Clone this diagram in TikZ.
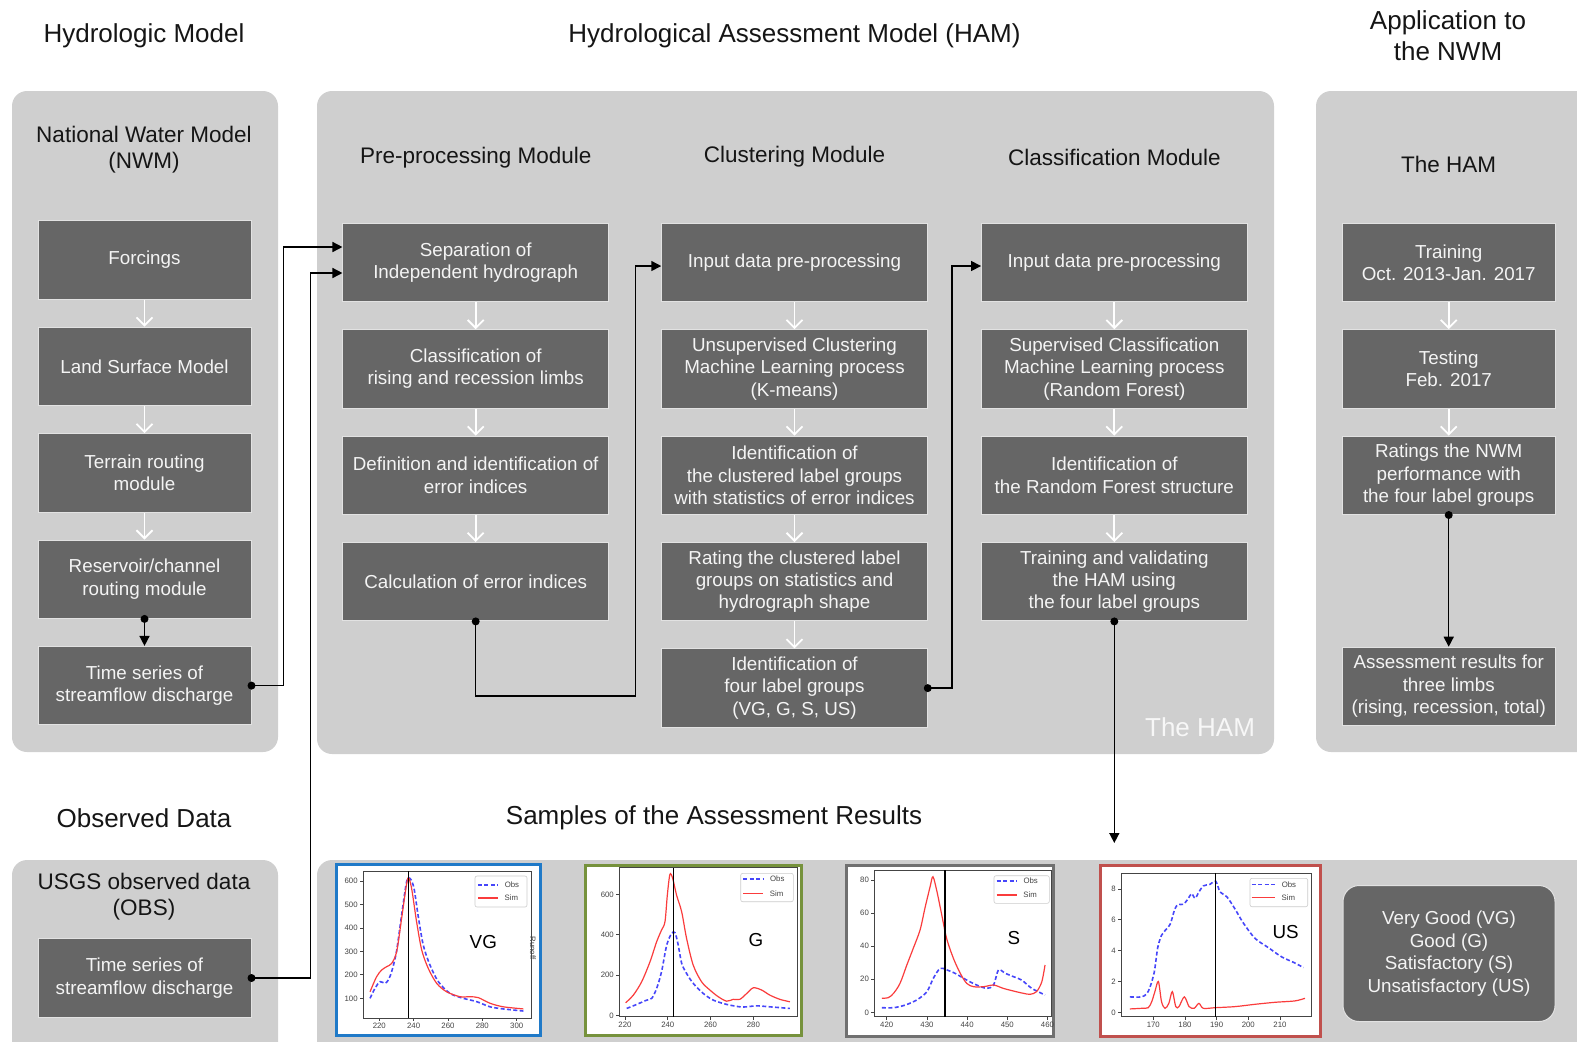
\documentclass[tikz,border=0pt]{standalone}
\usepackage{fontspec}
\setmainfont{Liberation Sans}
\usetikzlibrary{positioning,arrows.meta,calc}
\definecolor{panelgray}{HTML}{CFCFCF}
\definecolor{boxgray}{HTML}{666666}
\definecolor{boxedge}{HTML}{E2E2E2}
\definecolor{boxtext}{HTML}{F4F4F4}
\definecolor{titletext}{HTML}{151515}
\definecolor{axgray}{HTML}{444444}
\definecolor{vgblue}{RGB}{32,122,200}
\definecolor{ggreen}{RGB}{118,146,60}
\definecolor{sgray}{RGB}{112,112,112}
\definecolor{usred}{RGB}{192,80,77}
\definecolor{obsblue}{RGB}{70,70,250}
\definecolor{simred}{RGB}{250,60,60}
\newcommand{\boxfont}{\fontsize{9.4}{11.2}\selectfont}
\newcommand{\ttlfont}{\fontsize{13}{15.5}\selectfont}
\newcommand{\modfont}{\fontsize{11.25}{13}\selectfont}
\newcommand{\tickfont}{\fontsize{3.9}{4.5}\selectfont}
\begin{document}
\begin{tikzpicture}[x=0.5pt, y=-0.5pt,
	panel/.style={fill=panelgray, rounded corners=7.5pt},
	blk/.style={fill=boxgray, draw=boxedge, line width=0.5pt, text=boxtext, align=center, font=\boxfont, minimum height=39.2pt, inner sep=0pt},
	lbox/.style={blk, minimum width=106.5pt},
	hbox/.style={blk, minimum width=132.75pt},
	ttl/.style={font=\ttlfont, text=titletext, align=center},
	mtl/.style={font=\modfont, text=titletext, align=center},
	wflow/.style={draw=white, line width=0.9pt, -{Straight Barb[length=4pt, width=8pt]}},
	kflow/.style={draw=black, line width=0.75pt, -{Triangle[length=5pt, width=5pt]}},
	dot/.style={circle, fill=black, inner sep=0pt, minimum size=4pt},
	frm/.style={line width=1.5pt, fill=white},
	ax/.style={draw=axgray, line width=0.4pt},
	tk/.style={font=\tickfont, text=axgray, inner sep=1pt},
	obs/.style={obsblue, line width=0.8pt, dash pattern=on 2pt off 1.2pt},
	sim/.style={simred, line width=0.6pt},
	leg/.style={draw=gray!40, fill=white, rounded corners=1pt, line width=0.3pt},
	node distance=13.5pt]
	\useasboundingbox (0,0) rectangle (1577,1041);
	\clip (0,0) rectangle (1577,1041);

	\fill[panel] (12,91) rectangle (278,752);
	\fill[panel] (317,91) rectangle (1274,754);
	\fill[panel] (1316,91) rectangle (1600,752);
	\fill[panel] (12,860) rectangle (278,1060);
	\fill[panel] (317,860) rectangle (1600,1060);

	\node[ttl] (t1) at (144,36) {Hydrologic Model};
	\node[ttl] (t2) at (794.5,36) {Hydrological Assessment Model (HAM)};
	\node[ttl] (t3) at (1448,36) {Application to\\the NWM};
	\node[ttl] (t4) at (144,818) {Observed Data};
	\node[ttl] (t5) at (714,818) {Samples of the Assessment Results};
	\node[mtl] (m1) at (144,150) {National Water Model\\(NWM)};
	\node[mtl] (m2) at (475.7,158) {Pre-processing Module};
	\node[mtl] (m3) at (794.5,157) {Clustering Module};
	\node[mtl] (m4) at (1114.3,157) {Classification Module};
	\node[mtl] (m5) at (1448.7,164) {The HAM};
	\node[mtl] (m6) at (144,897) {USGS observed data\\(OBS)};
	\node[anchor=east, font=\ttlfont, text=white!94!gray] (wm) at (1262,727) {The HAM};

	\node[lbox] (forc) at (144.5,260) {Forcings};
	\node[lbox, below=of forc] (lsm) {Land Surface Model};
	\node[lbox, below=of lsm] (trm) {Terrain routing\\module};
	\node[lbox, below=of trm] (rcm) {Reservoir/channel\\routing module};
	\node[lbox, below=of rcm] (tsq) {Time series of\\streamflow discharge};
	\node[lbox] (tso) at (144.5,978) {Time series of\\streamflow discharge};

	\node[hbox] (sep) at (475.7,262.5) {Separation of\\Independent hydrograph};
	\node[hbox, below=of sep] (limb) {Classification of\\rising and recession limbs};
	\node[hbox, below=of limb] (defn) {Definition and identification of\\error indices};
	\node[hbox, below=of defn] (calc) {Calculation of error indices};

	\node[hbox] (inpc) at (794.5,262.5) {Input data pre-processing};
	\node[hbox, below=of inpc] (kmeans) {Unsupervised Clustering\\Machine Learning process\\(K-means)};
	\node[hbox, below=of kmeans] (clid) {Identification of\\the clustered label groups\\with statistics of error indices};
	\node[hbox, below=of clid] (rate) {Rating the clustered label\\groups on statistics and\\hydrograph shape};
	\node[hbox, below=of rate] (four) {Identification of\\four label groups\\(VG, G, S, US)};

	\node[hbox] (inpr) at (1114.3,262.5) {Input data pre-processing};
	\node[hbox, below=of inpr] (rf) {Supervised Classification\\Machine Learning process\\(Random Forest)};
	\node[hbox, below=of rf] (rfid) {Identification of\\the Random Forest structure};
	\node[hbox, below=of rfid] (train) {Training and validating\\the HAM using\\the four label groups};

	\node[lbox] (trn) at (1448.7,262.5) {Training\\Oct. 2013-Jan. 2017};
	\node[lbox, below=of trn] (tst) {Testing\\Feb. 2017};
	\node[lbox, below=of tst] (rtg) {Ratings the NWM\\performance with\\the four label groups};
	\node[lbox] (asr) at (1448.7,686.4) {Assessment results for\\three limbs\\(rising, recession, total)};

	\coordinate (cend) at (1114.3,843);

	\draw[wflow] (forc) -- (lsm);
	\draw[wflow] (lsm) -- (trm);
	\draw[wflow] (trm) -- (rcm);
	\draw[wflow] (sep) -- (limb);
	\draw[wflow] (limb) -- (defn);
	\draw[wflow] (defn) -- (calc);
	\draw[wflow] (inpc) -- (kmeans);
	\draw[wflow] (kmeans) -- (clid);
	\draw[wflow] (clid) -- (rate);
	\draw[wflow] (rate) -- (four);
	\draw[wflow] (inpr) -- (rf);
	\draw[wflow] (rf) -- (rfid);
	\draw[wflow] (rfid) -- (train);
	\draw[wflow] (trn) -- (tst);
	\draw[wflow] (tst) -- (rtg);

	\draw[kflow] (rcm.south) node[dot] {} -- (tsq.north);
	\draw[kflow] (tsq.east) node[dot] {} -- ++(32,0) |- ($(sep.west)+(0,-15.5)$);
	\draw[kflow] (tso.east) node[dot] {} -- ++(59,0) |- ($(sep.west)+(0,10.5)$);
	\draw[kflow] (calc.south) node[dot] {} -- ++(0,74.5) -| ($(inpc.west)+(-26,3.5)$) -- ($(inpc.west)+(0,3.5)$);
	\draw[kflow] (four.east) node[dot] {} -- ++(24,0) |- ($(inpr.west)+(0,3.5)$);
	\draw[kflow] (train.south) node[dot] {} -- (cend);
	\draw[kflow] (rtg.south) node[dot] {} -- (asr.north);

	\node[blk, minimum width=106pt, minimum height=68pt, rounded corners=8pt, font=\fontsize{9.4}{11.3}\selectfont] (lgd) at (1449,953.5) {Very Good (VG)\\Good (G)\\Satisfactory (S)\\Unsatisfactory (US)};

	\draw[frm, draw=vgblue] (336.5,864.5) rectangle (540.5,1035);
	\draw[frm, draw=ggreen] (585.5,865.5) rectangle (801,1035.5);
	\draw[frm, draw=sgray] (846.5,865.5) rectangle (1053.5,1036);
	\draw[frm, draw=usred] (1100.5,865) rectangle (1320.5,1036);

	\begin{scope}[shift={(1.56,1021.8)}, x=0.8585pt, y=0.11735pt]
		\draw[ax] (210.5,16.2) rectangle (308.4,642.5);
		\foreach \t in {220,240,...,300}
			\draw[ax] (\t,16.2) -- ++(0pt,-1.5pt) node[below, tk] {\t};
		\foreach \t in {100,200,...,600}
			\draw[ax] (210.5,\t) -- ++(-1.5pt,0pt) node[left, tk] {\t};
		\draw[obs] plot[smooth] coordinates {(214.6,100) (217.5,143) (220.4,171) (223.3,164) (225.2,178) (227.2,214) (230,299) (233,455) (235.9,597) (237.9,611) (240.2,569) (242.7,448) (245.6,327) (249.5,242) (254.4,171) (261.2,121) (269,100) (276.7,86) (284.5,64) (292.2,55) (303.9,46)};
		\draw[sim] plot[smooth] coordinates {(214.6,128) (218.4,192) (221.4,221) (224.3,235) (227.2,249) (230.1,299) (233,441) (235.5,569) (236.9,614) (238.8,569) (241.7,427) (244.7,306) (248.5,228) (253.4,164) (259.2,128) (267,107) (272.8,107) (277.7,103) (284.5,79) (292.2,64) (303.9,55)};
		\draw[black, line width=0.7pt] (237.1,16.2) -- (237.1,642.5);
	\end{scope}

	\begin{scope}[shift={(154.4,1015.7)}, x=1.0695pt, y=0.1011pt]
		\draw[ax] (217.3,-5) rectangle (300.4,732);
		\foreach \t in {220,240,...,280}
			\draw[ax] (\t,-5) -- ++(0pt,-1.5pt) node[below, tk] {\t};
		\foreach \t in {0,200,...,600}
			\draw[ax] (217.3,\t) -- ++(-1.5pt,0pt) node[left, tk] {\t};
		\draw[obs] plot[smooth] coordinates {(220.8,36) (225.5,56) (230.1,77) (232.5,86) (234.8,135) (237.1,218) (239.5,349) (241.8,407) (243.4,410) (244.9,349) (246.5,259) (248.8,209) (251.9,160) (256.6,110) (261.3,77) (267.5,56) (273.7,44) (276.9,44) (281.5,49) (287.7,44) (297.1,36)};
		\draw[sim] plot[smooth] coordinates {(220.3,64) (223.9,102) (227.8,168) (231.7,267) (234.8,366) (237.1,424) (238.7,465) (239.8,597) (241,699) (242.3,679) (244.1,597) (246.5,514) (248.8,382) (251.9,250) (255.8,168) (259.7,127) (263.6,94) (267.5,72) (270.6,81) (273.7,81) (276.9,110) (280,138) (283.9,127) (287.7,102) (292.4,81) (297.1,69)};
		\draw[black, line width=0.7pt] (242.6,-5) -- (242.6,732);
	\end{scope}

	\begin{scope}[shift={(-800.4,1012.3)}, x=2.0085pt, y=0.827pt]
		\draw[ax] (416.9,-2.7) rectangle (461,86);
		\foreach \t in {420,430,...,460}
			\draw[ax] (\t,-2.7) -- ++(0pt,-1.5pt) node[below, tk] {\t};
		\foreach \t in {0,20,...,80}
			\draw[ax] (416.9,\t) -- ++(-1.5pt,0pt) node[left, tk] {\t};
		\draw[obs] plot[smooth] coordinates {(418.8,2.8) (421.7,2.8) (424.6,4.4) (427.5,7.5) (430,12.5) (431.6,20.6) (433.3,26.6) (435,25.6) (437,23.6) (439.9,19.5) (442.4,16.5) (444.9,14.5) (446.6,16.5) (447.8,25.6) (449.5,23.6) (451.5,21.6) (453.6,19.5) (456.1,14.5) (459.4,10.5)};
		\draw[sim] plot[smooth] coordinates {(418.8,8.5) (420.4,8.9) (421.7,11.5) (423.3,17.5) (425,28.6) (426.6,38.7) (428.3,49.8) (429.5,62.9) (430.8,76) (431.5,82) (432.5,73) (433.7,58.8) (434.9,44.7) (436.6,32.6) (438.3,23.6) (439.9,17.5) (441.6,15.5) (444.1,15.5) (446.6,16.5) (449,14.5) (451.5,12.9) (454,11.5) (455.7,10.9) (457.3,12.5) (458.6,18.5) (459.4,28.6)};
		\draw[black, line width=0.7pt] (434.5,-2.7) -- (434.5,86);
	\end{scope}

	\begin{scope}[shift={(614.9,1012.3)}, x=1.5835pt, y=7.71pt]
		\draw[ax] (159.8,-0.29) rectangle (219.8,9.01);
		\foreach \t in {170,180,...,210}
			\draw[ax] (\t,-0.29) -- ++(0pt,-1.5pt) node[below, tk] {\t};
		\foreach \t in {0,2,...,8}
			\draw[ax] (159.8,\t) -- ++(-1.5pt,0pt) node[left, tk] {\t};
		\draw[obs] plot[smooth] coordinates {(162.6,1.0) (166.3,1.0) (167.9,1.2) (168.9,1.6) (170.3,2.6) (171.4,4.2) (172.6,5.0) (173.7,5.3) (175.3,5.7) (176.8,6.7) (177.9,7.0) (179.5,7.0) (181.1,7.4) (182.1,7.7) (183.2,7.4) (184.4,7.8) (185.8,8.2) (187.9,8.3) (189.7,8.5) (191.1,7.8) (193.2,7.5) (195.8,6.7) (198.4,5.8) (202.1,4.8) (206.3,4.2) (210.5,3.6) (214.7,3.2) (217.4,2.9)};
		\draw[sim] plot[smooth] coordinates {(162.6,0.22) (166.3,0.26) (168.4,0.30) (169.5,0.69) (170.5,1.34) (171.6,2.0) (172.6,0.69) (173.7,0.26) (174.9,0.58) (176,1.34) (177.1,0.37) (178.1,0.37) (179.8,1.0) (181.3,0.37) (182.9,0.26) (184.4,0.58) (185.8,0.26) (189.5,0.30) (195.8,0.37) (202.1,0.52) (208.4,0.65) (214.7,0.74) (217.9,0.91)};
		\draw[black, line width=0.7pt] (189.7,-0.29) -- (189.7,9.01);
	\end{scope}

	\draw[leg] (475,876) rectangle (527,907);
	\draw[obs] (478,884.7) -- (498,884.7) node[right, tk, xshift=2pt] {Obs};
	\draw[sim] (478,898) -- (498,898) node[right, tk, xshift=2pt] {Sim};
	\draw[leg] (740.7,873.3) rectangle (793.3,901.7);
	\draw[obs] (743.3,879) -- (763.3,879) node[right, tk, xshift=2pt] {Obs};
	\draw[sim] (743.3,893.3) -- (763.3,893.3) node[right, tk, xshift=2pt] {Sim};
	\draw[leg] (994,875.7) rectangle (1049.3,903.3);
	\draw[obs] (996.7,881) -- (1016.7,881) node[right, tk, xshift=2pt] {Obs};
	\draw[sim] (996.7,895) -- (1016.7,895) node[right, tk, xshift=2pt] {Sim};
	\draw[leg] (1250,878.3) rectangle (1307.7,906.7);
	\draw[obs] (1251.7,884.3) -- (1275,884.3) node[right, tk, xshift=2pt] {Obs};
	\draw[sim] (1251.7,897.7) -- (1275,897.7) node[right, tk, xshift=2pt] {Sim};

	\node[font=\boxfont] (lvg) at (483.3,942.3) {VG};
	\node[font=\boxfont] (lg) at (756,940) {G};
	\node[font=\boxfont] (ls) at (1014,938.3) {S};
	\node[font=\boxfont] (lus) at (1285.7,931.7) {US};
	\node[tk, rotate=-90] (ro) at (533,948) {Runoff};
\end{tikzpicture}
\end{document}
